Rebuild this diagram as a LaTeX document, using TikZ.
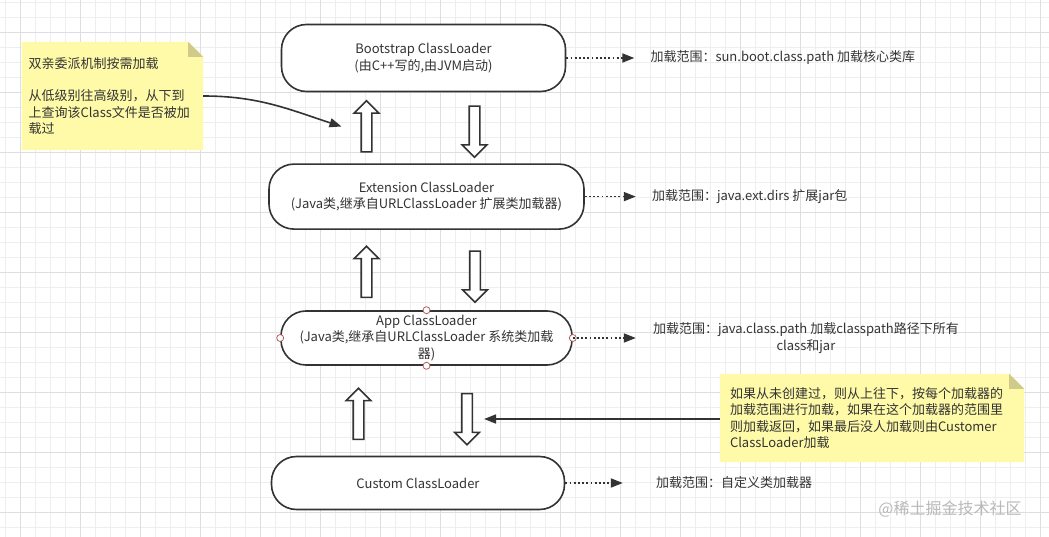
\documentclass[tikz,border=0pt]{standalone}
\usepackage{fontspec}
\setmainfont{Noto Sans CJK SC}
\usetikzlibrary{shapes.arrows, arrows.meta, positioning, calc, backgrounds}
\definecolor{ink}{HTML}{333333}
\definecolor{notebg}{HTML}{FFFAA8}
\definecolor{notefold}{HTML}{D0CB8A}
\definecolor{gridminor}{HTML}{EEEEEE}
\definecolor{gridmajor}{HTML}{DEDEDE}
\definecolor{gripc}{HTML}{B06060}
\tikzset{
  loader/.style={rectangle, rounded corners=25pt, draw=ink, line width=1.6pt,
    fill=white, text=ink, align=center, inner ysep=0pt,
    font=\fontsize{13}{16.5}\selectfont},
  rangetxt/.style={inner sep=0pt, text=ink, align=center,
    font=\fontsize{13}{16.5}\selectfont},
  notebox/.style={rectangle, text=ink, align=left,
    font=\fontsize{13}{16.5}\selectfont},
  blockarrow/.style={single arrow, draw=ink, line width=1.6pt, fill=white,
    minimum height=51pt, minimum width=23pt, single arrow head extend=7pt,
    inner xsep=0pt, inner ysep=4.5pt},
  blockup/.style={blockarrow, rotate=90},
  blockdown/.style={blockarrow, rotate=-90},
  dotarrow/.style={draw=ink, line width=1.8pt, dash pattern=on 1.8pt off 2.4pt,
    -{Triangle[length=12pt,width=9pt]}},
  arrow/.style={draw=ink, line width=1.6pt, -{Triangle[length=12pt,width=9pt]}},
  grip/.style={draw=gripc, fill=white, line width=0.8pt}
}
\begin{document}
\begin{tikzpicture}[x=1pt, y=1pt]
\useasboundingbox (0,0) rectangle (1049,-537);

% loaders
\node (boot) [loader, minimum width=284pt, minimum height=67pt] at (423.5,-58)
  {Bootstrap ClassLoader\\(由C++写的,由JVM启动)};
\node (ext)  [loader, minimum width=315pt, minimum height=65pt, below=71pt of boot, xshift=3pt]
  {Extension ClassLoader\\(Java类,继承自URLClassLoader 扩展类加载器)};
\node (app)  [loader, minimum width=291pt, minimum height=54pt] at (426.5,-338)
  {App ClassLoader\\(Java类,继承自URLClassLoader 系统类加载\\器)};
\node (cust) [loader, minimum width=293pt, minimum height=53pt] at (418,-483)
  {Custom ClassLoader};
\foreach \a in {north,south,east,west}
  \draw [grip] (app.\a) circle (3.5pt);

% ranges
\node (bootR) [rangetxt, right=84pt of boot] {加载范围：sun.boot.class.path 加载核心类库};
\node (extR)  [rangetxt, right=67pt of ext]  {加载范围：java.ext.dirs 扩展jar包};
\node (appR)  [rangetxt, right=80pt of app]
  {加载范围：java.class.path 加载classpath路径下所有\\class和jar};
\node (custR) [rangetxt, right=90.5pt of cust] {加载范围：自定义类加载器};

\draw [dotarrow, shorten >=16pt] (boot) -- (bootR);
\draw [dotarrow, shorten >=16pt] (ext)  -- (extR);
\draw [dotarrow, shorten >=17pt] (app)  -- (appR);
\draw [dotarrow, shorten >=33pt] (cust) -- (custR);

% delegation
\node (upA)   [blockup]   at (366.5,-129) {};
\node (downA) [blockdown] at (474.5,-129) {};
\node (upB)   [blockup]   at (366.5,-274.5) {};
\node (downB) [blockdown] at (475,-274) {};
\node (upC)   [blockup]   at (358.5,-416.5) {};
\node (downC) [blockdown] at (467,-416.5) {};

% notes
\node (noteL) [notebox, minimum width=181pt, minimum height=108pt,
  text width=168pt, inner xsep=6.5pt] at (112.5,-96)
  {双亲委派机制按需加载\\[16pt]从低级别往高级别，从下到\\上查询该Class文件是否被加\\载过};
\node (noteR) [notebox, minimum width=304pt, minimum height=88pt,
  text width=284pt, inner xsep=10pt] at (872,-418)
  {如果从未创建过，则从上往下，按每个加载器的\\加载范围进行加载，如果在这个加载器的范围里\\则加载返回，如果最后没人加载则由Customer\\ClassLoader加载};
\coordinate (tipL) at (341.5,-126.5);
\coordinate (tipR) at (484,-419);
\draw [arrow] (noteL.east) to[out=0, in=162] (tipL);
\draw [arrow] (noteR.west |- tipR) -- (tipR);

\node (mark) [text=gray!55, font=\fontsize{16}{16}\selectfont] at (950,-509) {@稀土掘金技术社区};

\begin{scope}[on background layer]
  \fill [white] (0,0) rectangle (1049,-537);
  \clip (0,0) rectangle (1049,-537);
  \draw [gridminor, line width=0.6pt, step=15pt, xshift=5pt, yshift=-2pt] (-30,30) grid (1080,-570);
  \draw [gridmajor, line width=0.6pt, step=60pt, xshift=20pt, yshift=-32pt] (-60,60) grid (1080,-600);
  \fill [notebg] (noteL.south west) |- ($(noteL.north east)+(-15,0)$)
    -- ($(noteL.north east)+(0,-15)$) -- (noteL.south east) -- cycle;
  \fill [notefold] ($(noteL.north east)+(-15,0)$) -- ($(noteL.north east)+(-15,-15)$)
    -- ($(noteL.north east)+(0,-15)$) -- cycle;
  \fill [notebg] (noteR.south west) |- ($(noteR.north east)+(-15,0)$)
    -- ($(noteR.north east)+(0,-15)$) -- (noteR.south east) -- cycle;
  \fill [notefold] ($(noteR.north east)+(-15,0)$) -- ($(noteR.north east)+(-15,-15)$)
    -- ($(noteR.north east)+(0,-15)$) -- cycle;
\end{scope}
\end{tikzpicture}
\end{document}
